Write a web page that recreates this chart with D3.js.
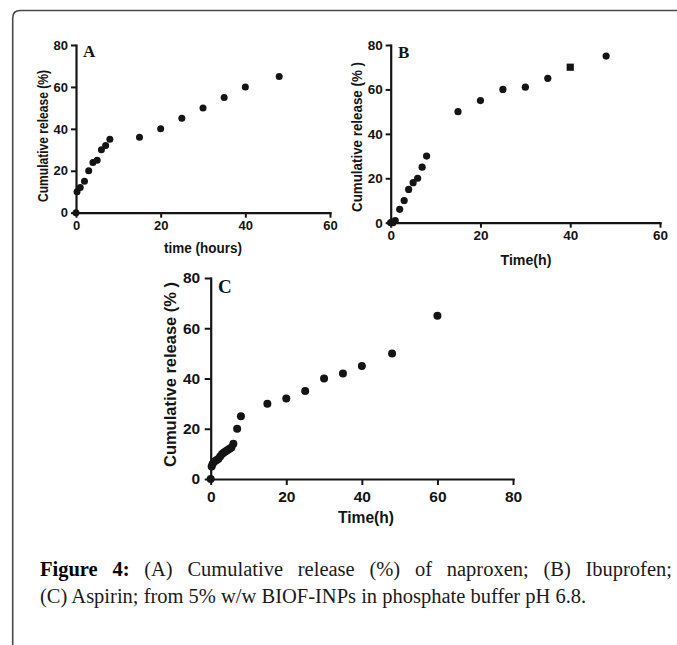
<!DOCTYPE html>
<html><head><meta charset="utf-8">
<script src="https://cdn.jsdelivr.net/npm/d3@7"></script>
<style>html,body{margin:0;padding:0;background:#fff;} svg{display:block}</style>
</head><body>
<svg id="c" width="677" height="645"></svg>
<script>
// ---- data ----
const yTicks = [0, 20, 40, 60, 80];
const xTicksAB = [0, 20, 40, 60];
const xTicksC = [0, 20, 40, 60, 80];

const timeA = [0, 0.25, 1, 2, 3, 4, 5, 6, 7, 8, 15, 20, 25, 30, 35, 40, 48];
const releaseA = [0, 10, 12, 15, 20, 24, 25, 30, 32, 35, 36, 40, 45, 50, 55, 60, 65];

const timeB = [0, 0.5, 1, 2, 3, 4, 5, 6, 7, 8, 15, 20, 25, 30, 35, 40, 48];
const releaseB = [0, 0, 1, 6, 10, 15, 18, 20, 25, 30, 50, 55, 60, 61, 65, 70, 75];

const timeC = [0, 0.25, 0.5, 1, 1.5, 2, 2.5, 3, 3.5, 4, 4.5, 5, 5.5, 6, 7, 8, 15, 20, 25, 30, 35, 40, 48, 60];
const releaseC = [0, 5, 6, 7, 7.5, 8, 9, 10, 10.5, 11, 11.5, 12, 12.5, 14, 20, 25, 30, 32, 35, 40, 42, 45, 50, 65];

const yTitleA = "Cumulative release (%)";
const yTitleBC = "Cumulative release (% )";
const xTitleA = "time (hours)";
const xTitleBC = "Time(h)";
const captionBold = "Figure 4:";
const captionLine1 = "(A) Cumulative release (%) of naproxen; (B) Ibuprofen;";
const captionLine2 = "(C) Aspirin; from 5% w/w BIOF-INPs in phosphate buffer pH 6.8.";

// ---- drawing ----
const svg = d3.select('#c');
const ink = '#141414';
const sans = '"Liberation Sans", Arial, sans-serif';
const serif = '"Liberation Serif", "Times New Roman", serif';

svg.append('path')
  .attr('d', 'M12.7,645 L12.7,18 Q12.7,10.5 20.2,10.5 L677,10.5')
  .attr('fill', 'none').attr('stroke', '#4a4a4a').attr('stroke-width', 1.6);

function panel(cfg) {
  const x = d3.scaleLinear().domain([0, cfg.xmax]).range([cfg.x0, cfg.x1]);
  const y = d3.scaleLinear().domain([0, 80]).range([cfg.y0, cfg.y1]);
  const g = svg.append('g');

  const gx = g.append('g').attr('transform', `translate(0,${cfg.y0})`)
    .call(d3.axisBottom(x).tickValues(cfg.xticks).tickSize(cfg.tick).tickPadding(cfg.padX).tickSizeOuter(0));
  const gy = g.append('g').attr('transform', `translate(${cfg.x0},0)`)
    .call(d3.axisLeft(y).tickValues(yTicks).tickSize(cfg.tick).tickPadding(cfg.padY).tickSizeOuter(0));
  [gx, gy].forEach(a => {
    a.select('.domain').attr('stroke', ink).attr('stroke-width', 2.2).attr('stroke-linecap', 'square');
    a.selectAll('.tick line').attr('stroke', ink).attr('stroke-width', 2);
    a.selectAll('.tick text').attr('fill', ink).attr('font-family', sans)
      .attr('font-weight', 'bold').attr('font-size', cfg.fs);
  });

  const pts = cfg.t.map((t, i) => ({t, v: cfg.v[i]}));
  pts.forEach(d => {
    if (cfg.squareAt !== undefined && d.t === cfg.squareAt) {
      g.append('rect').attr('x', x(d.t) - cfg.r).attr('y', y(d.v) - cfg.r)
        .attr('width', 2 * cfg.r).attr('height', 2 * cfg.r).attr('fill', ink);
    } else {
      g.append('circle').attr('cx', x(d.t)).attr('cy', y(d.v)).attr('r', cfg.r).attr('fill', ink);
    }
  });

  // y title
  g.append('text')
    .attr('transform', `translate(${cfg.ytx},${cfg.yty}) rotate(-90)`)
    .attr('text-anchor', 'middle').attr('dy', '0.35em')
    .attr('font-family', sans).attr('font-weight', 'bold').attr('font-size', cfg.tfs)
    .attr('fill', ink).attr('textLength', cfg.ytLen).attr('lengthAdjust', 'spacingAndGlyphs')
    .text(cfg.yTitle);
  // x title
  g.append('text')
    .attr('x', cfg.xtx).attr('y', cfg.xty).attr('text-anchor', 'middle').attr('dy', '0.35em')
    .attr('font-family', sans).attr('font-weight', 'bold').attr('font-size', cfg.xfs)
    .attr('fill', ink).attr('textLength', cfg.xtLen).attr('lengthAdjust', 'spacingAndGlyphs')
    .text(cfg.xTitle);
  // letter
  g.append('text').attr('x', cfg.lx).attr('y', cfg.ly)
    .attr('font-family', serif).attr('font-weight', 'bold').attr('font-size', cfg.lfs)
    .attr('fill', ink).text(cfg.letter);
}

panel({xmax: 60, xticks: xTicksAB, x0: 76, x1: 330, y0: 212.7, y1: 45, tick: 5, padX: 3, padY: 3, fs: 13,
  t: timeA, v: releaseA, r: 3.5,
  yTitle: yTitleA, ytx: 43.5, yty: 136, ytLen: 132, tfs: 14,
  xTitle: xTitleA, xtx: 203, xty: 248, xtLen: 78, xfs: 14,
  letter: 'A', lx: 83, ly: 57, lfs: 17});

panel({xmax: 60, xticks: xTicksAB, x0: 390.7, x1: 660, y0: 222.7, y1: 45, tick: 5, padX: 3, padY: 3, fs: 13.5,
  t: timeB, v: releaseB, r: 3.6, squareAt: 40,
  yTitle: yTitleBC, ytx: 357, yty: 137, ytLen: 150, tfs: 14.5,
  xTitle: xTitleBC, xtx: 526, xty: 260, xtLen: 51, xfs: 14.5,
  letter: 'B', lx: 398, ly: 58, lfs: 17});

panel({xmax: 80, xticks: xTicksC, x0: 210.7, x1: 513, y0: 479, y1: 278, tick: 6, padX: 6, padY: 4.5, fs: 15.5,
  t: timeC, v: releaseC, r: 4,
  yTitle: yTitleBC, ytx: 170.5, yty: 374.5, ytLen: 185, tfs: 17,
  xTitle: xTitleBC, xtx: 366, xty: 517, xtLen: 56, xfs: 16,
  letter: 'C', lx: 218, ly: 293, lfs: 19});

// caption
const capFs = 20.5, capX = 40, capR = 672, base1 = 576, base2 = 603;
const cap = svg.append('g').attr('font-family', serif).attr('font-size', capFs).attr('fill', '#1a1a1a');
const words1 = captionBold.split(' ').map(w => ({w, bold: true}))
  .concat(captionLine1.split(' ').map(w => ({w, bold: false})));
const nodes = words1.map(o => cap.append('text').attr('y', base1)
  .attr('font-weight', o.bold ? 'bold' : 'normal').attr('fill', o.bold ? '#000' : '#1a1a1a').text(o.w));
const widths = nodes.map(n => n.node().getComputedTextLength());
const gap = (capR - capX - d3.sum(widths)) / (nodes.length - 1);
let cx = capX;
nodes.forEach((n, i) => { n.attr('x', cx); cx += widths[i] + gap; });
cap.append('text').attr('x', capX).attr('y', base2).text(captionLine2);
</script>
</body></html>
